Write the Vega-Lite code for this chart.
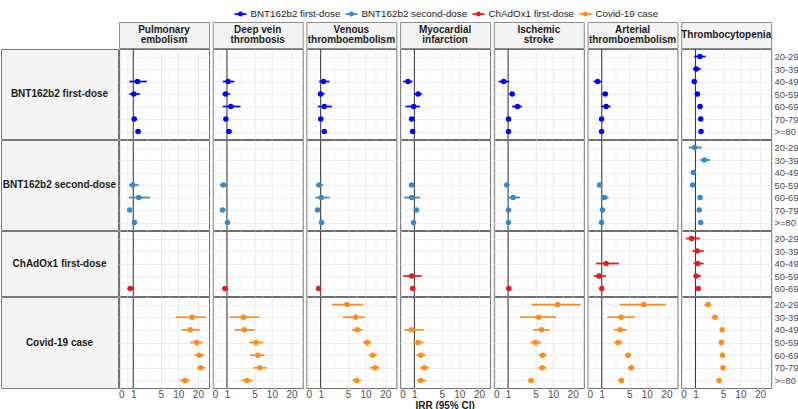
{
  "$schema": "https://vega.github.io/schema/vega-lite/v6.json",
  "padding": {"left": 0, "top": 8, "right": 0, "bottom": 0},
  "background": "white",
  "config": {
    "font": "Liberation Sans",
    "view": {"stroke": "#6e6e6e", "strokeWidth": 1},
    "facet": {"spacing": 3.7},
    "axis": {"labelFont": "Liberation Sans", "labelFontSize": 10, "labelColor": "#4d4d4d"},
    "legend": {"labelFont": "Liberation Sans"},
    "text": {"font": "Liberation Sans"}
  },
  "datasets": {
    "outcomes": [
      {"outcome": "Pulmonary embolism", "top": "Pulmonary", "bottom": "embolism", "mid": ""},
      {"outcome": "Deep vein thrombosis", "top": "Deep vein", "bottom": "thrombosis", "mid": ""},
      {"outcome": "Venous thromboembolism", "top": "Venous", "bottom": "thromboembolism", "mid": ""},
      {"outcome": "Myocardial infarction", "top": "Myocardial", "bottom": "infarction", "mid": ""},
      {"outcome": "Ischemic stroke", "top": "Ischemic", "bottom": "stroke", "mid": ""},
      {"outcome": "Arterial thromboembolism", "top": "Arterial", "bottom": "thromboembolism", "mid": ""},
      {"outcome": "Thrombocytopenia", "top": "", "bottom": "", "mid": "Thrombocytopenia"}
    ],
    "irr": [
      {"outcome": "Pulmonary embolism", "group": "BNT162b2 first-dose", "age": "40-49", "irr": 1.41, "lo": 0.66, "hi": 2.56},
      {"outcome": "Pulmonary embolism", "group": "BNT162b2 first-dose", "age": "50-59", "irr": 1.05, "lo": 0.66, "hi": 1.68},
      {"outcome": "Pulmonary embolism", "group": "BNT162b2 first-dose", "age": "70-79", "irr": 1.09, "lo": 0.87, "hi": 1.38},
      {"outcome": "Pulmonary embolism", "group": "BNT162b2 first-dose", "age": ">=80", "irr": 1.48, "lo": 1.2, "hi": 1.81},
      {"outcome": "Deep vein thrombosis", "group": "BNT162b2 first-dose", "age": "40-49", "irr": 1.11, "lo": 0.65, "hi": 1.78},
      {"outcome": "Deep vein thrombosis", "group": "BNT162b2 first-dose", "age": "50-59", "irr": 0.87, "lo": 0.61, "hi": 1.29},
      {"outcome": "Deep vein thrombosis", "group": "BNT162b2 first-dose", "age": "60-69", "irr": 1.38, "lo": 0.63, "hi": 2.56},
      {"outcome": "Deep vein thrombosis", "group": "BNT162b2 first-dose", "age": "70-79", "irr": 0.9, "lo": 0.74, "hi": 1.08},
      {"outcome": "Deep vein thrombosis", "group": "BNT162b2 first-dose", "age": ">=80", "irr": 1.2, "lo": 0.99, "hi": 1.41},
      {"outcome": "Venous thromboembolism", "group": "BNT162b2 first-dose", "age": "40-49", "irr": 1.28, "lo": 0.86, "hi": 1.95},
      {"outcome": "Venous thromboembolism", "group": "BNT162b2 first-dose", "age": "50-59", "irr": 0.99, "lo": 0.76, "hi": 1.37},
      {"outcome": "Venous thromboembolism", "group": "BNT162b2 first-dose", "age": "60-69", "irr": 1.35, "lo": 0.74, "hi": 2.25},
      {"outcome": "Venous thromboembolism", "group": "BNT162b2 first-dose", "age": "70-79", "irr": 1.01, "lo": 0.88, "hi": 1.15},
      {"outcome": "Venous thromboembolism", "group": "BNT162b2 first-dose", "age": ">=80", "irr": 1.35, "lo": 1.18, "hi": 1.52},
      {"outcome": "Myocardial infarction", "group": "BNT162b2 first-dose", "age": "40-49", "irr": 0.46, "lo": 0.12, "hi": 0.84},
      {"outcome": "Myocardial infarction", "group": "BNT162b2 first-dose", "age": "50-59", "irr": 1.37, "lo": 1.0, "hi": 1.77},
      {"outcome": "Myocardial infarction", "group": "BNT162b2 first-dose", "age": "60-69", "irr": 0.93, "lo": 0.28, "hi": 1.57},
      {"outcome": "Myocardial infarction", "group": "BNT162b2 first-dose", "age": "70-79", "irr": 0.76, "lo": 0.63, "hi": 0.92},
      {"outcome": "Myocardial infarction", "group": "BNT162b2 first-dose", "age": ">=80", "irr": 0.84, "lo": 0.71, "hi": 1.0},
      {"outcome": "Ischemic stroke", "group": "BNT162b2 first-dose", "age": "40-49", "irr": 0.62, "lo": 0.23, "hi": 1.13},
      {"outcome": "Ischemic stroke", "group": "BNT162b2 first-dose", "age": "50-59", "irr": 1.4, "lo": 1.13, "hi": 1.7},
      {"outcome": "Ischemic stroke", "group": "BNT162b2 first-dose", "age": "60-69", "irr": 2.01, "lo": 1.4, "hi": 2.59},
      {"outcome": "Ischemic stroke", "group": "BNT162b2 first-dose", "age": "70-79", "irr": 1.04, "lo": 0.92, "hi": 1.18},
      {"outcome": "Ischemic stroke", "group": "BNT162b2 first-dose", "age": ">=80", "irr": 1.04, "lo": 0.92, "hi": 1.18},
      {"outcome": "Arterial thromboembolism", "group": "BNT162b2 first-dose", "age": "40-49", "irr": 0.64, "lo": 0.33, "hi": 0.98},
      {"outcome": "Arterial thromboembolism", "group": "BNT162b2 first-dose", "age": "50-59", "irr": 1.34, "lo": 1.07, "hi": 1.63},
      {"outcome": "Arterial thromboembolism", "group": "BNT162b2 first-dose", "age": "60-69", "irr": 1.43, "lo": 0.98, "hi": 1.94},
      {"outcome": "Arterial thromboembolism", "group": "BNT162b2 first-dose", "age": "70-79", "irr": 0.98, "lo": 0.88, "hi": 1.09},
      {"outcome": "Arterial thromboembolism", "group": "BNT162b2 first-dose", "age": ">=80", "irr": 0.98, "lo": 0.88, "hi": 1.09},
      {"outcome": "Thrombocytopenia", "group": "BNT162b2 first-dose", "age": "20-29", "irr": 1.43, "lo": 0.89, "hi": 2.11},
      {"outcome": "Thrombocytopenia", "group": "BNT162b2 first-dose", "age": "30-39", "irr": 1.07, "lo": 0.78, "hi": 1.53},
      {"outcome": "Thrombocytopenia", "group": "BNT162b2 first-dose", "age": "40-49", "irr": 0.89, "lo": 0.78, "hi": 1.0},
      {"outcome": "Thrombocytopenia", "group": "BNT162b2 first-dose", "age": "50-59", "irr": 1.18, "lo": 1.05, "hi": 1.32},
      {"outcome": "Thrombocytopenia", "group": "BNT162b2 first-dose", "age": "60-69", "irr": 1.46, "lo": 1.32, "hi": 1.6},
      {"outcome": "Thrombocytopenia", "group": "BNT162b2 first-dose", "age": "70-79", "irr": 1.53, "lo": 1.4, "hi": 1.66},
      {"outcome": "Thrombocytopenia", "group": "BNT162b2 first-dose", "age": ">=80", "irr": 1.56, "lo": 1.42, "hi": 1.7},

      {"outcome": "Pulmonary embolism", "group": "BNT162b2 second-dose", "age": "50-59", "irr": 0.94, "lo": 0.63, "hi": 1.55},
      {"outcome": "Pulmonary embolism", "group": "BNT162b2 second-dose", "age": "60-69", "irr": 1.55, "lo": 0.63, "hi": 3.04},
      {"outcome": "Pulmonary embolism", "group": "BNT162b2 second-dose", "age": "70-79", "irr": 0.69, "lo": 0.55, "hi": 0.85},
      {"outcome": "Pulmonary embolism", "group": "BNT162b2 second-dose", "age": ">=80", "irr": 1.11, "lo": 0.9, "hi": 1.33},
      {"outcome": "Deep vein thrombosis", "group": "BNT162b2 second-dose", "age": "50-59", "irr": 0.69, "lo": 0.41, "hi": 1.08},
      {"outcome": "Deep vein thrombosis", "group": "BNT162b2 second-dose", "age": "70-79", "irr": 0.63, "lo": 0.52, "hi": 0.76},
      {"outcome": "Deep vein thrombosis", "group": "BNT162b2 second-dose", "age": ">=80", "irr": 1.05, "lo": 0.9, "hi": 1.22},
      {"outcome": "Venous thromboembolism", "group": "BNT162b2 second-dose", "age": "50-59", "irr": 0.86, "lo": 0.58, "hi": 1.23},
      {"outcome": "Venous thromboembolism", "group": "BNT162b2 second-dose", "age": "60-69", "irr": 1.05, "lo": 0.55, "hi": 1.95},
      {"outcome": "Venous thromboembolism", "group": "BNT162b2 second-dose", "age": "70-79", "irr": 0.73, "lo": 0.62, "hi": 0.86},
      {"outcome": "Venous thromboembolism", "group": "BNT162b2 second-dose", "age": ">=80", "irr": 1.08, "lo": 0.93, "hi": 1.24},
      {"outcome": "Myocardial infarction", "group": "BNT162b2 second-dose", "age": "50-59", "irr": 0.76, "lo": 0.55, "hi": 1.0},
      {"outcome": "Myocardial infarction", "group": "BNT162b2 second-dose", "age": "60-69", "irr": 0.76, "lo": 0.2, "hi": 1.57},
      {"outcome": "Myocardial infarction", "group": "BNT162b2 second-dose", "age": "70-79", "irr": 1.19, "lo": 1.02, "hi": 1.38},
      {"outcome": "Myocardial infarction", "group": "BNT162b2 second-dose", "age": ">=80", "irr": 0.93, "lo": 0.8, "hi": 1.08},
      {"outcome": "Ischemic stroke", "group": "BNT162b2 second-dose", "age": "50-59", "irr": 0.88, "lo": 0.67, "hi": 1.13},
      {"outcome": "Ischemic stroke", "group": "BNT162b2 second-dose", "age": "60-69", "irr": 1.5, "lo": 0.95, "hi": 2.35},
      {"outcome": "Ischemic stroke", "group": "BNT162b2 second-dose", "age": "70-79", "irr": 1.04, "lo": 0.9, "hi": 1.2},
      {"outcome": "Ischemic stroke", "group": "BNT162b2 second-dose", "age": ">=80", "irr": 1.04, "lo": 0.9, "hi": 1.2},
      {"outcome": "Arterial thromboembolism", "group": "BNT162b2 second-dose", "age": "50-59", "irr": 0.81, "lo": 0.65, "hi": 0.98},
      {"outcome": "Arterial thromboembolism", "group": "BNT162b2 second-dose", "age": "60-69", "irr": 1.25, "lo": 0.9, "hi": 1.7},
      {"outcome": "Arterial thromboembolism", "group": "BNT162b2 second-dose", "age": "70-79", "irr": 1.07, "lo": 0.95, "hi": 1.2},
      {"outcome": "Arterial thromboembolism", "group": "BNT162b2 second-dose", "age": ">=80", "irr": 0.98, "lo": 0.88, "hi": 1.1},
      {"outcome": "Thrombocytopenia", "group": "BNT162b2 second-dose", "age": "20-29", "irr": 0.92, "lo": 0.45, "hi": 1.66},
      {"outcome": "Thrombocytopenia", "group": "BNT162b2 second-dose", "age": "30-39", "irr": 1.97, "lo": 1.46, "hi": 2.75},
      {"outcome": "Thrombocytopenia", "group": "BNT162b2 second-dose", "age": "40-49", "irr": 0.81, "lo": 0.71, "hi": 0.94},
      {"outcome": "Thrombocytopenia", "group": "BNT162b2 second-dose", "age": "50-59", "irr": 0.76, "lo": 0.67, "hi": 0.87},
      {"outcome": "Thrombocytopenia", "group": "BNT162b2 second-dose", "age": "60-69", "irr": 1.46, "lo": 1.32, "hi": 1.6},
      {"outcome": "Thrombocytopenia", "group": "BNT162b2 second-dose", "age": "70-79", "irr": 1.37, "lo": 1.25, "hi": 1.5},
      {"outcome": "Thrombocytopenia", "group": "BNT162b2 second-dose", "age": ">=80", "irr": 1.53, "lo": 1.4, "hi": 1.66},

      {"outcome": "Pulmonary embolism", "group": "ChAdOx1 first-dose", "age": "60-69", "irr": 0.74, "lo": 0.51, "hi": 1.05},
      {"outcome": "Deep vein thrombosis", "group": "ChAdOx1 first-dose", "age": "60-69", "irr": 0.82, "lo": 0.61, "hi": 1.08},
      {"outcome": "Venous thromboembolism", "group": "ChAdOx1 first-dose", "age": "60-69", "irr": 0.82, "lo": 0.68, "hi": 0.98},
      {"outcome": "Myocardial infarction", "group": "ChAdOx1 first-dose", "age": "50-59", "irr": 0.76, "lo": 0.12, "hi": 1.76},
      {"outcome": "Myocardial infarction", "group": "ChAdOx1 first-dose", "age": "60-69", "irr": 0.85, "lo": 0.75, "hi": 0.96},
      {"outcome": "Ischemic stroke", "group": "ChAdOx1 first-dose", "age": "60-69", "irr": 1.07, "lo": 0.95, "hi": 1.2},
      {"outcome": "Arterial thromboembolism", "group": "ChAdOx1 first-dose", "age": "40-49", "irr": 1.43, "lo": 0.52, "hi": 3.1},
      {"outcome": "Arterial thromboembolism", "group": "ChAdOx1 first-dose", "age": "50-59", "irr": 0.76, "lo": 0.35, "hi": 1.4},
      {"outcome": "Arterial thromboembolism", "group": "ChAdOx1 first-dose", "age": "60-69", "irr": 1.0, "lo": 0.88, "hi": 1.12},
      {"outcome": "Thrombocytopenia", "group": "ChAdOx1 first-dose", "age": "20-29", "irr": 0.67, "lo": 0.25, "hi": 1.46},
      {"outcome": "Thrombocytopenia", "group": "ChAdOx1 first-dose", "age": "30-39", "irr": 1.16, "lo": 0.73, "hi": 1.86},
      {"outcome": "Thrombocytopenia", "group": "ChAdOx1 first-dose", "age": "40-49", "irr": 1.21, "lo": 0.81, "hi": 1.86},
      {"outcome": "Thrombocytopenia", "group": "ChAdOx1 first-dose", "age": "50-59", "irr": 1.07, "lo": 0.81, "hi": 1.56},
      {"outcome": "Thrombocytopenia", "group": "ChAdOx1 first-dose", "age": "60-69", "irr": 1.27, "lo": 1.12, "hi": 1.42},

      {"outcome": "Pulmonary embolism", "group": "Covid-19 case", "age": "30-39", "irr": 16.4, "lo": 9.1, "hi": 26.5},
      {"outcome": "Pulmonary embolism", "group": "Covid-19 case", "age": "40-49", "irr": 15.4, "lo": 11.3, "hi": 21.3},
      {"outcome": "Pulmonary embolism", "group": "Covid-19 case", "age": "50-59", "irr": 19.2, "lo": 15.5, "hi": 23.6},
      {"outcome": "Pulmonary embolism", "group": "Covid-19 case", "age": "60-69", "irr": 21.0, "lo": 17.8, "hi": 24.9},
      {"outcome": "Pulmonary embolism", "group": "Covid-19 case", "age": "70-79", "irr": 22.1, "lo": 19.5, "hi": 25.8},
      {"outcome": "Pulmonary embolism", "group": "Covid-19 case", "age": ">=80", "irr": 12.8, "lo": 10.5, "hi": 15.2},
      {"outcome": "Deep vein thrombosis", "group": "Covid-19 case", "age": "30-39", "irr": 2.98, "lo": 1.23, "hi": 6.18},
      {"outcome": "Deep vein thrombosis", "group": "Covid-19 case", "age": "40-49", "irr": 3.12, "lo": 1.81, "hi": 5.04},
      {"outcome": "Deep vein thrombosis", "group": "Covid-19 case", "age": "50-59", "irr": 5.39, "lo": 3.95, "hi": 7.26},
      {"outcome": "Deep vein thrombosis", "group": "Covid-19 case", "age": "60-69", "irr": 5.8, "lo": 4.1, "hi": 7.55},
      {"outcome": "Deep vein thrombosis", "group": "Covid-19 case", "age": "70-79", "irr": 6.26, "lo": 4.75, "hi": 8.2},
      {"outcome": "Deep vein thrombosis", "group": "Covid-19 case", "age": ">=80", "irr": 3.57, "lo": 2.7, "hi": 4.6},
      {"outcome": "Venous thromboembolism", "group": "Covid-19 case", "age": "20-29", "irr": 4.75, "lo": 2.28, "hi": 9.1},
      {"outcome": "Venous thromboembolism", "group": "Covid-19 case", "age": "30-39", "irr": 6.8, "lo": 3.95, "hi": 9.8},
      {"outcome": "Venous thromboembolism", "group": "Covid-19 case", "age": "40-49", "irr": 7.3, "lo": 5.9, "hi": 8.9},
      {"outcome": "Venous thromboembolism", "group": "Covid-19 case", "age": "50-59", "irr": 10.6, "lo": 9.1, "hi": 12.4},
      {"outcome": "Venous thromboembolism", "group": "Covid-19 case", "age": "60-69", "irr": 12.9, "lo": 11.2, "hi": 14.9},
      {"outcome": "Venous thromboembolism", "group": "Covid-19 case", "age": "70-79", "irr": 14.0, "lo": 11.7, "hi": 16.3},
      {"outcome": "Venous thromboembolism", "group": "Covid-19 case", "age": ">=80", "irr": 7.1, "lo": 6.0, "hi": 8.5},
      {"outcome": "Myocardial infarction", "group": "Covid-19 case", "age": "40-49", "irr": 0.76, "lo": 0.2, "hi": 1.98},
      {"outcome": "Myocardial infarction", "group": "Covid-19 case", "age": "50-59", "irr": 1.37, "lo": 0.93, "hi": 1.98},
      {"outcome": "Myocardial infarction", "group": "Covid-19 case", "age": "60-69", "irr": 1.66, "lo": 1.19, "hi": 2.2},
      {"outcome": "Myocardial infarction", "group": "Covid-19 case", "age": "70-79", "irr": 2.09, "lo": 1.57, "hi": 2.67},
      {"outcome": "Myocardial infarction", "group": "Covid-19 case", "age": ">=80", "irr": 1.64, "lo": 1.25, "hi": 2.35},
      {"outcome": "Ischemic stroke", "group": "Covid-19 case", "age": "20-29", "irr": 11.8, "lo": 4.16, "hi": 26.0},
      {"outcome": "Ischemic stroke", "group": "Covid-19 case", "age": "30-39", "irr": 5.75, "lo": 2.38, "hi": 11.0},
      {"outcome": "Ischemic stroke", "group": "Covid-19 case", "age": "40-49", "irr": 6.42, "lo": 4.5, "hi": 8.8},
      {"outcome": "Ischemic stroke", "group": "Covid-19 case", "age": "50-59", "irr": 5.02, "lo": 4.0, "hi": 6.3},
      {"outcome": "Ischemic stroke", "group": "Covid-19 case", "age": "60-69", "irr": 6.7, "lo": 5.7, "hi": 7.9},
      {"outcome": "Ischemic stroke", "group": "Covid-19 case", "age": "70-79", "irr": 6.6, "lo": 5.6, "hi": 7.8},
      {"outcome": "Ischemic stroke", "group": "Covid-19 case", "age": ">=80", "irr": 4.11, "lo": 3.5, "hi": 4.6},
      {"outcome": "Arterial thromboembolism", "group": "Covid-19 case", "age": "20-29", "irr": 8.95, "lo": 3.19, "hi": 19.5},
      {"outcome": "Arterial thromboembolism", "group": "Covid-19 case", "age": "30-39", "irr": 3.45, "lo": 1.56, "hi": 6.3},
      {"outcome": "Arterial thromboembolism", "group": "Covid-19 case", "age": "40-49", "irr": 3.3, "lo": 2.38, "hi": 4.5},
      {"outcome": "Arterial thromboembolism", "group": "Covid-19 case", "age": "50-59", "irr": 2.97, "lo": 2.42, "hi": 3.74},
      {"outcome": "Arterial thromboembolism", "group": "Covid-19 case", "age": "60-69", "irr": 4.7, "lo": 4.1, "hi": 5.5},
      {"outcome": "Arterial thromboembolism", "group": "Covid-19 case", "age": "70-79", "irr": 5.45, "lo": 4.7, "hi": 6.2},
      {"outcome": "Arterial thromboembolism", "group": "Covid-19 case", "age": ">=80", "irr": 3.5, "lo": 3.0, "hi": 3.95},
      {"outcome": "Thrombocytopenia", "group": "Covid-19 case", "age": "20-29", "irr": 2.43, "lo": 1.97, "hi": 2.87},
      {"outcome": "Thrombocytopenia", "group": "Covid-19 case", "age": "30-39", "irr": 3.49, "lo": 2.94, "hi": 4.0},
      {"outcome": "Thrombocytopenia", "group": "Covid-19 case", "age": "40-49", "irr": 4.85, "lo": 4.5, "hi": 5.3},
      {"outcome": "Thrombocytopenia", "group": "Covid-19 case", "age": "50-59", "irr": 4.65, "lo": 4.4, "hi": 5.0},
      {"outcome": "Thrombocytopenia", "group": "Covid-19 case", "age": "60-69", "irr": 4.9, "lo": 4.6, "hi": 5.2},
      {"outcome": "Thrombocytopenia", "group": "Covid-19 case", "age": "70-79", "irr": 5.0, "lo": 4.7, "hi": 5.3},
      {"outcome": "Thrombocytopenia", "group": "Covid-19 case", "age": ">=80", "irr": 4.2, "lo": 3.95, "hi": 4.45}
    ]
  },
  "spacing": -2,
  "vconcat": [
    {
      "spacing": -2,
      "hconcat": [
        {"width": 117, "height": 26, "view": {"stroke": "#ffffff"}, "data": {"values": [{"t": ""}]}, "mark": {"type": "text"}, "encoding": {"text": {"field": "t"}}},
        {
          "data": {"name": "outcomes"},
          "facet": {"column": {"field": "outcome", "sort": ["Pulmonary embolism", "Deep vein thrombosis", "Venous thromboembolism", "Myocardial infarction", "Ischemic stroke", "Arterial thromboembolism", "Thrombocytopenia"], "header": null}},
          "spacing": 3.7,
          "bounds": "flush",
          "spec": {
            "width": 90, "height": 26,
            "view": {"fill": "#f4f4f4", "stroke": "#8c8c8c"},
            "layer": [
              {"mark": {"type": "text", "fontWeight": "bold", "fontSize": 10, "color": "#1a1a1a", "dy": -5.3}, "encoding": {"text": {"field": "top"}}},
              {"mark": {"type": "text", "fontWeight": "bold", "fontSize": 10, "color": "#1a1a1a", "dy": 5.3}, "encoding": {"text": {"field": "bottom"}}},
              {"mark": {"type": "text", "fontWeight": "bold", "fontSize": 10, "color": "#1a1a1a"}, "encoding": {"text": {"field": "mid"}}}
            ]
          }
        }
      ]
    },
    {
      "spacing": -3,
      "vconcat": [
        {
          "spacing": -2,
          "hconcat": [
            {"width": 117, "height": 90, "view": {"fill": "#f4f4f4", "stroke": "#7a7a7a"}, "data": {"values": [{"label": "BNT162b2 first-dose"}]}, "mark": {"type": "text", "fontWeight": "bold", "fontSize": 10, "color": "#1a1a1a"}, "encoding": {"text": {"field": "label"}}},
            {
              "data": {"name": "irr"},
              "transform": [{"filter": {"field": "group", "equal": "BNT162b2 first-dose"}}],
              "facet": {"column": {"field": "outcome", "sort": ["Pulmonary embolism", "Deep vein thrombosis", "Venous thromboembolism", "Myocardial infarction", "Ischemic stroke", "Arterial thromboembolism", "Thrombocytopenia"], "header": null}},
              "spacing": 3.7,
              "bounds": "flush",
              "resolve": {"axis": {"x": "independent"}},
              "spec": {
                "width": 90, "height": 90,
                "layer": [
                  {"transform": [{"aggregate": [{"op": "count", "as": "n"}]}], "mark": {"type": "rule", "color": "#333333", "strokeWidth": 1},
                   "encoding": {"x": {"datum": 1, "type": "quantitative", "scale": {"type": "symlog", "constant": 2, "domain": [-0.07, 29], "nice": false, "zero": false}, "axis": {"values": [0, 0.486, 1, 2.55, 5, 7.1, 10, 14.2, 20], "title": null, "labels": false, "ticks": false, "domain": false, "grid": true, "gridColor": {"condition": {"test": "indexof([0,1,5,10,20], datum.value) >= 0", "value": "#e3e3e3"}, "value": "#f1f1f1"}, "gridWidth": 0.8, "minExtent": 0, "maxExtent": 0}}}},
                  {"mark": {"type": "rule", "strokeWidth": 1.7},
                   "encoding": {
                     "x": {"field": "lo", "type": "quantitative", "scale": {"type": "symlog", "constant": 2, "domain": [-0.07, 29], "nice": false, "zero": false}, "axis": {"values": [0, 0.486, 1, 2.55, 5, 7.1, 10, 14.2, 20], "title": null, "labels": false, "ticks": false, "domain": false, "grid": true, "gridColor": {"condition": {"test": "indexof([0,1,5,10,20], datum.value) >= 0", "value": "#e3e3e3"}, "value": "#f1f1f1"}, "gridWidth": 0.8, "minExtent": 0, "maxExtent": 0}},
                     "x2": {"field": "hi"},
                     "y": {"field": "age", "type": "ordinal", "scale": {"type": "point", "domain": ["20-29", "30-39", "40-49", "50-59", "60-69", "70-79", ">=80"], "padding": 0.6}, "axis": {"orient": "right", "title": null, "ticks": false, "domain": false, "labelPadding": 2, "grid": true, "gridColor": "#e8e8e8", "gridWidth": 0.8, "labelFontSize": 9.4, "labelColor": "#4d4d4d"}},
                     "color": {"field": "group", "type": "nominal", "scale": {"domain": ["BNT162b2 first-dose", "BNT162b2 second-dose", "ChAdOx1 first-dose", "Covid-19 case"], "range": ["#0000ff", "#3a88c7", "#e41a1c", "#ff8c1a"]},
                       "legend": {"orient": "none", "legendX": 233.5, "legendY": -14, "direction": "horizontal", "title": null, "symbolType": "M-1,-0.13L-0.35,-0.13L-0.35,0.13L-1,0.13Z M0.35,-0.13L1,-0.13L1,0.13L0.35,0.13Z M-0.42,0A0.42,0.42 0 1,1 0.42,0A0.42,0.42 0 1,1 -0.42,0Z", "symbolSize": 144, "symbolStrokeWidth": 0, "labelFontSize": 9.8, "labelColor": "#1a1a1a", "labelOffset": 4, "columnPadding": 5}}
                   }},
                  {"mark": {"type": "point", "filled": true, "size": 30, "opacity": 1},
                   "encoding": {
                     "x": {"field": "irr", "type": "quantitative", "scale": {"type": "symlog", "constant": 2, "domain": [-0.07, 29], "nice": false, "zero": false}, "axis": {"values": [0, 0.486, 1, 2.55, 5, 7.1, 10, 14.2, 20], "title": null, "labels": false, "ticks": false, "domain": false, "grid": true, "gridColor": {"condition": {"test": "indexof([0,1,5,10,20], datum.value) >= 0", "value": "#e3e3e3"}, "value": "#f1f1f1"}, "gridWidth": 0.8, "minExtent": 0, "maxExtent": 0}},
                     "y": {"field": "age", "type": "ordinal", "scale": {"type": "point", "domain": ["20-29", "30-39", "40-49", "50-59", "60-69", "70-79", ">=80"], "padding": 0.6}, "axis": {"orient": "right", "title": null, "ticks": false, "domain": false, "labelPadding": 2, "grid": true, "gridColor": "#e8e8e8", "gridWidth": 0.8, "labelFontSize": 9.4, "labelColor": "#4d4d4d"}},
                     "color": {"field": "group", "type": "nominal", "scale": {"domain": ["BNT162b2 first-dose", "BNT162b2 second-dose", "ChAdOx1 first-dose", "Covid-19 case"], "range": ["#0000ff", "#3a88c7", "#e41a1c", "#ff8c1a"]},
                       "legend": {"orient": "none", "legendX": 233.5, "legendY": -14, "direction": "horizontal", "title": null, "symbolType": "M-1,-0.13L-0.35,-0.13L-0.35,0.13L-1,0.13Z M0.35,-0.13L1,-0.13L1,0.13L0.35,0.13Z M-0.42,0A0.42,0.42 0 1,1 0.42,0A0.42,0.42 0 1,1 -0.42,0Z", "symbolSize": 144, "symbolStrokeWidth": 0, "labelFontSize": 9.8, "labelColor": "#1a1a1a", "labelOffset": 4, "columnPadding": 5}}
                   }}
                ]
              }
            }
          ]
        },
        {
          "spacing": -2,
          "hconcat": [
            {"width": 117, "height": 90, "view": {"fill": "#f4f4f4", "stroke": "#7a7a7a"}, "data": {"values": [{"label": "BNT162b2 second-dose"}]}, "mark": {"type": "text", "fontWeight": "bold", "fontSize": 10, "color": "#1a1a1a"}, "encoding": {"text": {"field": "label"}}},
            {
              "data": {"name": "irr"},
              "transform": [{"filter": {"field": "group", "equal": "BNT162b2 second-dose"}}],
              "facet": {"column": {"field": "outcome", "sort": ["Pulmonary embolism", "Deep vein thrombosis", "Venous thromboembolism", "Myocardial infarction", "Ischemic stroke", "Arterial thromboembolism", "Thrombocytopenia"], "header": null}},
              "spacing": 3.7,
              "bounds": "flush",
              "resolve": {"axis": {"x": "independent"}},
              "spec": {
                "width": 90, "height": 90,
                "layer": [
                  {"transform": [{"aggregate": [{"op": "count", "as": "n"}]}], "mark": {"type": "rule", "color": "#333333", "strokeWidth": 1},
                   "encoding": {"x": {"datum": 1, "type": "quantitative", "scale": {"type": "symlog", "constant": 2, "domain": [-0.07, 29], "nice": false, "zero": false}, "axis": {"values": [0, 0.486, 1, 2.55, 5, 7.1, 10, 14.2, 20], "title": null, "labels": false, "ticks": false, "domain": false, "grid": true, "gridColor": {"condition": {"test": "indexof([0,1,5,10,20], datum.value) >= 0", "value": "#e3e3e3"}, "value": "#f1f1f1"}, "gridWidth": 0.8, "minExtent": 0, "maxExtent": 0}}}},
                  {"mark": {"type": "rule", "strokeWidth": 1.7},
                   "encoding": {
                     "x": {"field": "lo", "type": "quantitative", "scale": {"type": "symlog", "constant": 2, "domain": [-0.07, 29], "nice": false, "zero": false}, "axis": {"values": [0, 0.486, 1, 2.55, 5, 7.1, 10, 14.2, 20], "title": null, "labels": false, "ticks": false, "domain": false, "grid": true, "gridColor": {"condition": {"test": "indexof([0,1,5,10,20], datum.value) >= 0", "value": "#e3e3e3"}, "value": "#f1f1f1"}, "gridWidth": 0.8, "minExtent": 0, "maxExtent": 0}},
                     "x2": {"field": "hi"},
                     "y": {"field": "age", "type": "ordinal", "scale": {"type": "point", "domain": ["20-29", "30-39", "40-49", "50-59", "60-69", "70-79", ">=80"], "padding": 0.6}, "axis": {"orient": "right", "title": null, "ticks": false, "domain": false, "labelPadding": 2, "grid": true, "gridColor": "#e8e8e8", "gridWidth": 0.8, "labelFontSize": 9.4, "labelColor": "#4d4d4d"}},
                     "color": {"field": "group", "type": "nominal", "scale": {"domain": ["BNT162b2 first-dose", "BNT162b2 second-dose", "ChAdOx1 first-dose", "Covid-19 case"], "range": ["#0000ff", "#3a88c7", "#e41a1c", "#ff8c1a"]},
                       "legend": {"orient": "none", "legendX": 233.5, "legendY": -14, "direction": "horizontal", "title": null, "symbolType": "M-1,-0.13L-0.35,-0.13L-0.35,0.13L-1,0.13Z M0.35,-0.13L1,-0.13L1,0.13L0.35,0.13Z M-0.42,0A0.42,0.42 0 1,1 0.42,0A0.42,0.42 0 1,1 -0.42,0Z", "symbolSize": 144, "symbolStrokeWidth": 0, "labelFontSize": 9.8, "labelColor": "#1a1a1a", "labelOffset": 4, "columnPadding": 5}}
                   }},
                  {"mark": {"type": "point", "filled": true, "size": 30, "opacity": 1},
                   "encoding": {
                     "x": {"field": "irr", "type": "quantitative", "scale": {"type": "symlog", "constant": 2, "domain": [-0.07, 29], "nice": false, "zero": false}, "axis": {"values": [0, 0.486, 1, 2.55, 5, 7.1, 10, 14.2, 20], "title": null, "labels": false, "ticks": false, "domain": false, "grid": true, "gridColor": {"condition": {"test": "indexof([0,1,5,10,20], datum.value) >= 0", "value": "#e3e3e3"}, "value": "#f1f1f1"}, "gridWidth": 0.8, "minExtent": 0, "maxExtent": 0}},
                     "y": {"field": "age", "type": "ordinal", "scale": {"type": "point", "domain": ["20-29", "30-39", "40-49", "50-59", "60-69", "70-79", ">=80"], "padding": 0.6}, "axis": {"orient": "right", "title": null, "ticks": false, "domain": false, "labelPadding": 2, "grid": true, "gridColor": "#e8e8e8", "gridWidth": 0.8, "labelFontSize": 9.4, "labelColor": "#4d4d4d"}},
                     "color": {"field": "group", "type": "nominal", "scale": {"domain": ["BNT162b2 first-dose", "BNT162b2 second-dose", "ChAdOx1 first-dose", "Covid-19 case"], "range": ["#0000ff", "#3a88c7", "#e41a1c", "#ff8c1a"]},
                       "legend": {"orient": "none", "legendX": 233.5, "legendY": -14, "direction": "horizontal", "title": null, "symbolType": "M-1,-0.13L-0.35,-0.13L-0.35,0.13L-1,0.13Z M0.35,-0.13L1,-0.13L1,0.13L0.35,0.13Z M-0.42,0A0.42,0.42 0 1,1 0.42,0A0.42,0.42 0 1,1 -0.42,0Z", "symbolSize": 144, "symbolStrokeWidth": 0, "labelFontSize": 9.8, "labelColor": "#1a1a1a", "labelOffset": 4, "columnPadding": 5}}
                   }}
                ]
              }
            }
          ]
        },
        {
          "spacing": -2,
          "hconcat": [
            {"width": 117, "height": 65, "view": {"fill": "#f4f4f4", "stroke": "#7a7a7a"}, "data": {"values": [{"label": "ChAdOx1 first-dose"}]}, "mark": {"type": "text", "fontWeight": "bold", "fontSize": 10, "color": "#1a1a1a"}, "encoding": {"text": {"field": "label"}}},
            {
              "data": {"name": "irr"},
              "transform": [{"filter": {"field": "group", "equal": "ChAdOx1 first-dose"}}],
              "facet": {"column": {"field": "outcome", "sort": ["Pulmonary embolism", "Deep vein thrombosis", "Venous thromboembolism", "Myocardial infarction", "Ischemic stroke", "Arterial thromboembolism", "Thrombocytopenia"], "header": null}},
              "spacing": 3.7,
              "bounds": "flush",
              "resolve": {"axis": {"x": "independent"}},
              "spec": {
                "width": 90, "height": 65,
                "layer": [
                  {"transform": [{"aggregate": [{"op": "count", "as": "n"}]}], "mark": {"type": "rule", "color": "#333333", "strokeWidth": 1},
                   "encoding": {"x": {"datum": 1, "type": "quantitative", "scale": {"type": "symlog", "constant": 2, "domain": [-0.07, 29], "nice": false, "zero": false}, "axis": {"values": [0, 0.486, 1, 2.55, 5, 7.1, 10, 14.2, 20], "title": null, "labels": false, "ticks": false, "domain": false, "grid": true, "gridColor": {"condition": {"test": "indexof([0,1,5,10,20], datum.value) >= 0", "value": "#e3e3e3"}, "value": "#f1f1f1"}, "gridWidth": 0.8, "minExtent": 0, "maxExtent": 0}}}},
                  {"mark": {"type": "rule", "strokeWidth": 1.7},
                   "encoding": {
                     "x": {"field": "lo", "type": "quantitative", "scale": {"type": "symlog", "constant": 2, "domain": [-0.07, 29], "nice": false, "zero": false}, "axis": {"values": [0, 0.486, 1, 2.55, 5, 7.1, 10, 14.2, 20], "title": null, "labels": false, "ticks": false, "domain": false, "grid": true, "gridColor": {"condition": {"test": "indexof([0,1,5,10,20], datum.value) >= 0", "value": "#e3e3e3"}, "value": "#f1f1f1"}, "gridWidth": 0.8, "minExtent": 0, "maxExtent": 0}},
                     "x2": {"field": "hi"},
                     "y": {"field": "age", "type": "ordinal", "scale": {"type": "point", "domain": ["20-29", "30-39", "40-49", "50-59", "60-69"], "padding": 0.6}, "axis": {"orient": "right", "title": null, "ticks": false, "domain": false, "labelPadding": 2, "grid": true, "gridColor": "#e8e8e8", "gridWidth": 0.8, "labelFontSize": 9.4, "labelColor": "#4d4d4d"}},
                     "color": {"field": "group", "type": "nominal", "scale": {"domain": ["BNT162b2 first-dose", "BNT162b2 second-dose", "ChAdOx1 first-dose", "Covid-19 case"], "range": ["#0000ff", "#3a88c7", "#e41a1c", "#ff8c1a"]},
                       "legend": {"orient": "none", "legendX": 233.5, "legendY": -14, "direction": "horizontal", "title": null, "symbolType": "M-1,-0.13L-0.35,-0.13L-0.35,0.13L-1,0.13Z M0.35,-0.13L1,-0.13L1,0.13L0.35,0.13Z M-0.42,0A0.42,0.42 0 1,1 0.42,0A0.42,0.42 0 1,1 -0.42,0Z", "symbolSize": 144, "symbolStrokeWidth": 0, "labelFontSize": 9.8, "labelColor": "#1a1a1a", "labelOffset": 4, "columnPadding": 5}}
                   }},
                  {"mark": {"type": "point", "filled": true, "size": 30, "opacity": 1},
                   "encoding": {
                     "x": {"field": "irr", "type": "quantitative", "scale": {"type": "symlog", "constant": 2, "domain": [-0.07, 29], "nice": false, "zero": false}, "axis": {"values": [0, 0.486, 1, 2.55, 5, 7.1, 10, 14.2, 20], "title": null, "labels": false, "ticks": false, "domain": false, "grid": true, "gridColor": {"condition": {"test": "indexof([0,1,5,10,20], datum.value) >= 0", "value": "#e3e3e3"}, "value": "#f1f1f1"}, "gridWidth": 0.8, "minExtent": 0, "maxExtent": 0}},
                     "y": {"field": "age", "type": "ordinal", "scale": {"type": "point", "domain": ["20-29", "30-39", "40-49", "50-59", "60-69"], "padding": 0.6}, "axis": {"orient": "right", "title": null, "ticks": false, "domain": false, "labelPadding": 2, "grid": true, "gridColor": "#e8e8e8", "gridWidth": 0.8, "labelFontSize": 9.4, "labelColor": "#4d4d4d"}},
                     "color": {"field": "group", "type": "nominal", "scale": {"domain": ["BNT162b2 first-dose", "BNT162b2 second-dose", "ChAdOx1 first-dose", "Covid-19 case"], "range": ["#0000ff", "#3a88c7", "#e41a1c", "#ff8c1a"]},
                       "legend": {"orient": "none", "legendX": 233.5, "legendY": -14, "direction": "horizontal", "title": null, "symbolType": "M-1,-0.13L-0.35,-0.13L-0.35,0.13L-1,0.13Z M0.35,-0.13L1,-0.13L1,0.13L0.35,0.13Z M-0.42,0A0.42,0.42 0 1,1 0.42,0A0.42,0.42 0 1,1 -0.42,0Z", "symbolSize": 144, "symbolStrokeWidth": 0, "labelFontSize": 9.8, "labelColor": "#1a1a1a", "labelOffset": 4, "columnPadding": 5}}
                   }}
                ]
              }
            }
          ]
        },
        {
          "spacing": -2,
          "hconcat": [
            {"width": 117, "height": 91, "view": {"fill": "#f4f4f4", "stroke": "#7a7a7a"}, "data": {"values": [{"label": "Covid-19 case"}]}, "mark": {"type": "text", "fontWeight": "bold", "fontSize": 10, "color": "#1a1a1a"}, "encoding": {"text": {"field": "label"}}},
            {
              "data": {"name": "irr"},
              "transform": [{"filter": {"field": "group", "equal": "Covid-19 case"}}],
              "facet": {"column": {"field": "outcome", "sort": ["Pulmonary embolism", "Deep vein thrombosis", "Venous thromboembolism", "Myocardial infarction", "Ischemic stroke", "Arterial thromboembolism", "Thrombocytopenia"], "header": null}},
              "spacing": 3.7,
              "bounds": "flush",
              "resolve": {"axis": {"x": "independent"}},
              "spec": {
                "width": 90, "height": 91,
                "layer": [
                  {"transform": [{"aggregate": [{"op": "count", "as": "n"}]}], "mark": {"type": "rule", "color": "#333333", "strokeWidth": 1},
                   "encoding": {"x": {"datum": 1, "type": "quantitative", "scale": {"type": "symlog", "constant": 2, "domain": [-0.07, 29], "nice": false, "zero": false}, "axis": {"values": [0, 0.486, 1, 2.55, 5, 7.1, 10, 14.2, 20], "title": null, "labels": true, "labelExpr": "indexof([0,1,5,10,20], datum.value) >= 0 ? '' + datum.value : ''", "ticks": false, "domain": false, "grid": true, "gridColor": {"condition": {"test": "indexof([0,1,5,10,20], datum.value) >= 0", "value": "#e3e3e3"}, "value": "#f1f1f1"}, "gridWidth": 0.8, "labelPadding": 1, "labelOverlap": false, "labelFlush": false, "labelBound": false, "labelFontSize": 10, "labelColor": "#4d4d4d", "labelAlign": {"condition": {"test": "datum.value == 0", "value": "left"}, "value": "center"}, "labelOffset": {"condition": {"test": "datum.value == 0", "value": -1.5}, "value": 0}}}}},
                  {"mark": {"type": "rule", "strokeWidth": 1.7},
                   "encoding": {
                     "x": {"field": "lo", "type": "quantitative", "scale": {"type": "symlog", "constant": 2, "domain": [-0.07, 29], "nice": false, "zero": false}, "axis": {"values": [0, 0.486, 1, 2.55, 5, 7.1, 10, 14.2, 20], "title": null, "labels": true, "labelExpr": "indexof([0,1,5,10,20], datum.value) >= 0 ? '' + datum.value : ''", "ticks": false, "domain": false, "grid": true, "gridColor": {"condition": {"test": "indexof([0,1,5,10,20], datum.value) >= 0", "value": "#e3e3e3"}, "value": "#f1f1f1"}, "gridWidth": 0.8, "labelPadding": 1, "labelOverlap": false, "labelFlush": false, "labelBound": false, "labelFontSize": 10, "labelColor": "#4d4d4d", "labelAlign": {"condition": {"test": "datum.value == 0", "value": "left"}, "value": "center"}, "labelOffset": {"condition": {"test": "datum.value == 0", "value": -1.5}, "value": 0}}},
                     "x2": {"field": "hi"},
                     "y": {"field": "age", "type": "ordinal", "scale": {"type": "point", "domain": ["20-29", "30-39", "40-49", "50-59", "60-69", "70-79", ">=80"], "padding": 0.6}, "axis": {"orient": "right", "title": null, "ticks": false, "domain": false, "labelPadding": 2, "grid": true, "gridColor": "#e8e8e8", "gridWidth": 0.8, "labelFontSize": 9.4, "labelColor": "#4d4d4d"}},
                     "color": {"field": "group", "type": "nominal", "scale": {"domain": ["BNT162b2 first-dose", "BNT162b2 second-dose", "ChAdOx1 first-dose", "Covid-19 case"], "range": ["#0000ff", "#3a88c7", "#e41a1c", "#ff8c1a"]},
                       "legend": {"orient": "none", "legendX": 233.5, "legendY": -14, "direction": "horizontal", "title": null, "symbolType": "M-1,-0.13L-0.35,-0.13L-0.35,0.13L-1,0.13Z M0.35,-0.13L1,-0.13L1,0.13L0.35,0.13Z M-0.42,0A0.42,0.42 0 1,1 0.42,0A0.42,0.42 0 1,1 -0.42,0Z", "symbolSize": 144, "symbolStrokeWidth": 0, "labelFontSize": 9.8, "labelColor": "#1a1a1a", "labelOffset": 4, "columnPadding": 5}}
                   }},
                  {"mark": {"type": "point", "filled": true, "size": 30, "opacity": 1},
                   "encoding": {
                     "x": {"field": "irr", "type": "quantitative", "scale": {"type": "symlog", "constant": 2, "domain": [-0.07, 29], "nice": false, "zero": false}, "axis": {"values": [0, 0.486, 1, 2.55, 5, 7.1, 10, 14.2, 20], "title": null, "labels": true, "labelExpr": "indexof([0,1,5,10,20], datum.value) >= 0 ? '' + datum.value : ''", "ticks": false, "domain": false, "grid": true, "gridColor": {"condition": {"test": "indexof([0,1,5,10,20], datum.value) >= 0", "value": "#e3e3e3"}, "value": "#f1f1f1"}, "gridWidth": 0.8, "labelPadding": 1, "labelOverlap": false, "labelFlush": false, "labelBound": false, "labelFontSize": 10, "labelColor": "#4d4d4d", "labelAlign": {"condition": {"test": "datum.value == 0", "value": "left"}, "value": "center"}, "labelOffset": {"condition": {"test": "datum.value == 0", "value": -1.5}, "value": 0}}},
                     "y": {"field": "age", "type": "ordinal", "scale": {"type": "point", "domain": ["20-29", "30-39", "40-49", "50-59", "60-69", "70-79", ">=80"], "padding": 0.6}, "axis": {"orient": "right", "title": null, "ticks": false, "domain": false, "labelPadding": 2, "grid": true, "gridColor": "#e8e8e8", "gridWidth": 0.8, "labelFontSize": 9.4, "labelColor": "#4d4d4d"}},
                     "color": {"field": "group", "type": "nominal", "scale": {"domain": ["BNT162b2 first-dose", "BNT162b2 second-dose", "ChAdOx1 first-dose", "Covid-19 case"], "range": ["#0000ff", "#3a88c7", "#e41a1c", "#ff8c1a"]},
                       "legend": {"orient": "none", "legendX": 233.5, "legendY": -14, "direction": "horizontal", "title": null, "symbolType": "M-1,-0.13L-0.35,-0.13L-0.35,0.13L-1,0.13Z M0.35,-0.13L1,-0.13L1,0.13L0.35,0.13Z M-0.42,0A0.42,0.42 0 1,1 0.42,0A0.42,0.42 0 1,1 -0.42,0Z", "symbolSize": 144, "symbolStrokeWidth": 0, "labelFontSize": 9.8, "labelColor": "#1a1a1a", "labelOffset": 4, "columnPadding": 5}}
                   }}
                ]
              }
            }
          ]
        },
        {
          "spacing": -2,
          "hconcat": [
            {"width": 117, "height": 11, "view": {"stroke": "#ffffff"}, "data": {"values": [{"t": ""}]}, "mark": {"type": "text"}, "encoding": {"text": {"field": "t"}}},
            {"width": 652.2, "height": 11, "view": {"stroke": null}, "data": {"values": [{"t": "IRR (95% CI)"}]}, "mark": {"type": "text", "fontWeight": "bold", "fontSize": 10, "color": "#1a1a1a"}, "encoding": {"text": {"field": "t"}}}
          ]
        }
      ]
    }
  ]
}
